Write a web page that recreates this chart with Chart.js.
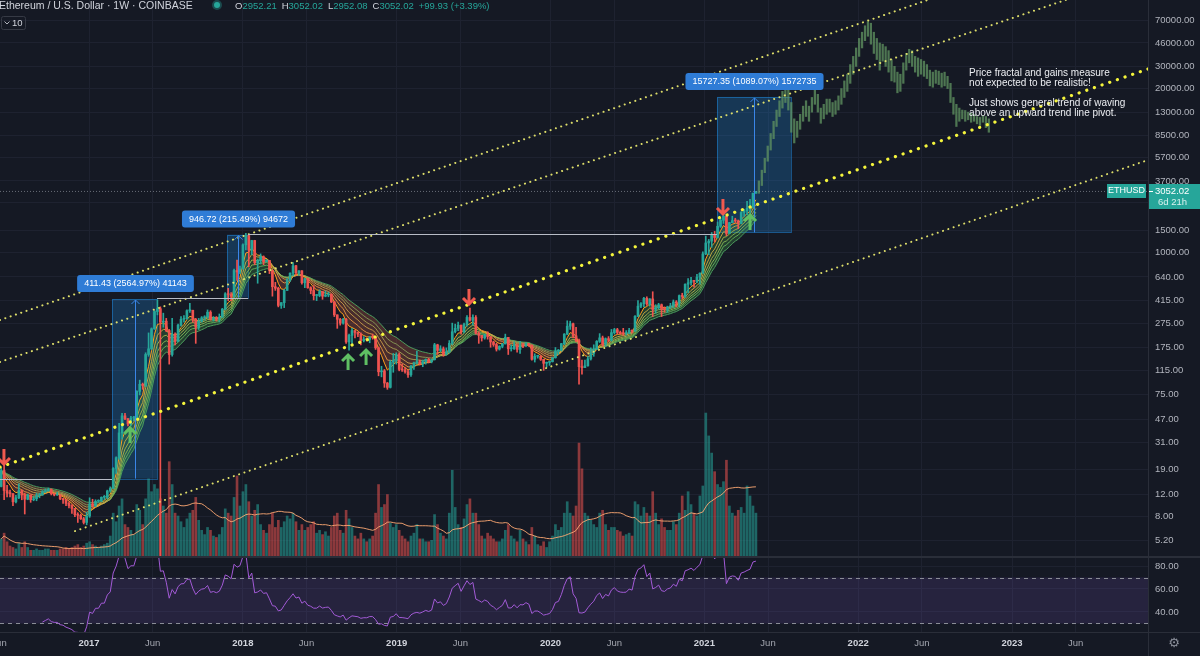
<!DOCTYPE html>
<html>
<head>
<meta charset="utf-8">
<title>ETHUSD 1W - fractal</title>
<script src="https://cdn.jsdelivr.net/npm/chart.js@4.4.0/dist/chart.umd.min.js"></script>
<style>
  html, body { margin: 0; padding: 0; background: #151924; overflow: hidden; }
  #wrap { width: 1200px; height: 656px; }
</style>
</head>
<body>
<div id="wrap"><canvas id="chart" width="1200" height="656"></canvas></div>
<script>
// ---- weekly candles, Coinbase ETHUSD, week of 6 Jun 2016 .. week of 3 May 2021 ----
const FIRST_WEEK = 2016.429;          // decimal year of the first weekly bar
const WEEK = 7 / 365.25;
const FIRST_OPEN = 13.9;

const closes = [
  // 2016
  18.6, 12.9, 12.3, 12.2, 10.5, 11.3, 12.9, 11.9, 11.0, 11.9,
  10.9, 11.1, 11.8, 11.9, 12.6, 12.9, 13.2, 12.2, 11.9, 11.9,
  11.1, 10.9, 10.2, 9.8, 9.3, 8.3, 8.2, 7.7, 7.2, 8.1,
  // 2017
  10.1, 9.8, 10.6, 10.6, 11.4, 11.4, 12.8, 13.4, 19.3, 23.5,
  37, 50.5, 48, 43.5, 48.5, 48.5, 79, 90, 88, 155,
  172, 248, 340, 358, 280, 285, 240, 155, 225, 197,
  265, 295, 298, 345, 348, 295, 255, 285, 303, 308,
  336, 296, 303, 296, 307, 355, 470, 463, 450, 720,
  700, 740,
  // 2018
  1150, 1360, 1045, 1245, 830, 860, 925, 845, 865, 720,
  535, 520, 380, 400, 500, 605, 685, 785, 690, 715,
  575, 620, 525, 500, 455, 455, 490, 450, 460, 465,
  405, 320, 295, 275, 295, 195, 220, 240, 232, 225,
  200, 205, 204, 213, 212, 175, 113, 115, 92, 85,
  135, 139,
  // 2019
  155, 118, 117, 113, 107, 125, 133, 136, 131, 136,
  142, 136, 141, 185, 167, 172, 156, 163, 190, 235,
  250, 265, 235, 268, 305, 290, 305, 228, 220, 210,
  222, 215, 195, 186, 171, 180, 188, 212, 172, 172,
  185, 170, 182, 181, 189, 183, 142, 150, 150, 142,
  132, 134,
  // 2020
  136, 146, 165, 168, 189, 225, 260, 272, 218, 200,
  124, 122, 126, 143, 158, 171, 197, 210, 187, 207,
  201, 231, 244, 232, 228, 227, 228, 241, 238, 311,
  375, 392, 433, 390, 428, 353, 365, 385, 356, 352,
  370, 377, 405, 396, 455, 448, 560, 575, 600, 590,
  638, 685, 975,
  // 2021
  1190, 1230, 1390, 1315, 1615, 1800, 1935, 1415, 1725, 1790,
  1780, 1700, 2080, 2140, 2240, 2320, 2952.21, 3052.02
];

const highs = [
  19.6, 21.5, 14.2, 13.0, 12.2, 11.8, 14.6, 13.0, 12.3, 12.1,
  11.6, 11.6, 12.3, 12.3, 12.9, 13.3, 13.5, 13.3, 12.2, 12.5,
  11.9, 11.2, 11.0, 10.5, 10.0, 9.0, 8.6, 8.4, 7.9, 8.7,
  11.3, 11.0, 10.9, 10.9, 11.5, 11.8, 13.0, 13.8, 19.6, 23.9,
  44, 53, 53, 48, 50, 50, 80, 97, 92, 160,
  230, 252, 345, 420, 370, 330, 300, 245, 300, 230,
  270, 310, 315, 350, 395, 340, 300, 300, 310, 315,
  350, 345, 310, 310, 325, 360, 480, 520, 480, 740,
  870, 780,
  1170, 1420, 1380, 1250, 1250, 885, 975, 940, 880, 865,
  730, 580, 530, 400, 510, 620, 690, 830, 790, 720,
  720, 625, 625, 535, 545, 465, 505, 490, 495, 485,
  470, 410, 320, 300, 300, 300, 225, 250, 240, 235,
  230, 215, 210, 215, 225, 215, 178, 125, 118, 93,
  140, 158,
  160, 160, 130, 122, 117, 127, 135, 165, 140, 140,
  143, 145, 143, 190, 187, 182, 178, 175, 200, 275,
  270, 280, 265, 275, 315, 362, 320, 315, 235, 220,
  225, 235, 215, 198, 190, 182, 190, 225, 212, 185,
  195, 185, 197, 190, 193, 190, 185, 157, 152, 152,
  142, 135,
  137, 147, 176, 170, 190, 227, 287, 285, 275, 255,
  205, 140, 140, 150, 175, 185, 200, 227, 217, 210,
  215, 245, 250, 250, 238, 250, 240, 250, 242, 315,
  415, 400, 440, 445, 430, 488, 385, 395, 390, 370,
  375, 395, 420, 415, 460, 475, 565, 620, 635, 600,
  670, 690, 1010,
  1350, 1270, 1440, 1470, 1745, 1870, 2040, 1950, 1735, 1940,
  1870, 1810, 2110, 2200, 2550, 2640, 2960, 3052.02
];

const lows = [
  13.8, 10.9, 11.5, 11.5, 9.8, 10.3, 11.1, 10.9, 8.4, 10.9,
  10.4, 10.7, 10.7, 11.3, 11.8, 12.4, 12.7, 11.9, 11.7, 11.8,
  10.9, 10.2, 9.8, 9.4, 8.5, 8.0, 7.2, 7.6, 7.0, 6.9,
  7.9, 9.5, 9.6, 10.4, 10.5, 10.9, 11.1, 12.5, 13.4, 17.6,
  22.8, 33, 47, 42, 42, 46, 48, 74, 82, 86,
  150, 170, 245, 320, 0.5, 255, 235, 130, 150, 185,
  195, 260, 280, 295, 335, 280, 190, 245, 280, 290,
  300, 290, 285, 285, 280, 305, 350, 415, 415, 440,
  600, 680,
  740, 1050, 770, 960, 800, 570, 810, 800, 840, 680,
  450, 500, 370, 360, 365, 500, 590, 650, 660, 665,
  560, 525, 520, 470, 420, 415, 445, 425, 445, 445,
  400, 310, 250, 265, 270, 190, 168, 190, 210, 215,
  185, 195, 198, 192, 205, 170, 105, 103, 85, 82,
  84, 112,
  130, 115, 114, 110, 102, 104, 118, 130, 128, 124,
  130, 133, 133, 140, 155, 163, 150, 153, 160, 185,
  230, 240, 225, 230, 260, 285, 265, 225, 190, 198,
  205, 205, 177, 180, 165, 168, 175, 188, 155, 165,
  170, 162, 158, 176, 180, 180, 140, 135, 145, 139,
  116, 123,
  127, 135, 145, 155, 165, 185, 222, 245, 210, 195,
  90, 108, 122, 125, 140, 150, 170, 193, 180, 180,
  195, 198, 225, 225, 224, 220, 221, 228, 230, 236,
  310, 365, 370, 380, 375, 310, 330, 355, 310, 335,
  335, 360, 365, 370, 370, 430, 440, 480, 550, 530,
  575, 560, 690,
  960, 960, 1100, 1220, 1300, 1580, 1700, 1360, 1410, 1720,
  1730, 1545, 1695, 1930, 2000, 2050, 2260, 2952.08
];

// weekly volume, relative units
const volumes = [
  12, 16, 10, 7, 6, 5, 9, 6, 10, 6, 4, 4, 5, 4, 4, 5, 5, 4, 4, 4,
  5, 5, 6, 5, 6, 7, 8, 6, 7, 9,
  10, 8, 7, 6, 7, 8, 9, 14, 30, 24, 35, 40, 22, 20, 18, 15, 36, 32, 22, 40,
  54, 45, 50, 47, 40, 35, 30, 66, 50, 30, 28, 24, 20, 26, 30, 32, 41, 25, 18, 15,
  20, 18, 14, 13, 15, 20, 33, 30, 28, 41, 56, 35,
  45, 50, 38, 28, 32, 36, 22, 18, 16, 22, 30, 20, 25, 20, 24, 28, 26, 30, 24, 18,
  22, 18, 20, 22, 24, 16, 18, 15, 17, 14, 20, 28, 30, 18, 16, 32, 26, 20, 14, 12,
  16, 12, 10, 12, 14, 30, 50, 34, 36, 43, 23, 20,
  22, 18, 14, 12, 10, 14, 16, 22, 12, 12, 10, 10, 11, 29, 22, 16, 14, 12, 30, 60,
  34, 22, 20, 26, 36, 40, 30, 30, 22, 14, 12, 16, 14, 12, 10, 10, 12, 18, 22, 14,
  12, 10, 18, 12, 10, 8, 20, 14, 8, 7, 10, 6,
  10, 14, 22, 18, 20, 30, 38, 30, 28, 35, 79, 61, 30, 28, 25, 22, 20, 30, 32, 22,
  18, 20, 20, 18, 17, 14, 15, 16, 14, 38, 36, 28, 34, 30, 28, 45, 30, 22, 26, 20,
  18, 18, 24, 22, 30, 42, 32, 45, 36, 30, 28, 42, 49,
  100, 84, 72, 59, 50, 48, 52, 67, 35, 30, 28, 32, 34, 30, 49, 42, 35, 30
];

// projected fractal bars (weeks after the last candle): low / high
const projLow = [
  2950, 3400, 4300, 5300, 6500, 8000, 10000, 12000, 14000, 15500,
  13500, 9000, 7400, 8200, 9500, 11000, 12000, 11000, 13000, 15000,
  13000, 10600, 11500, 12500, 13000, 12000, 12500, 13500, 15000, 17000,
  19000, 22000, 26000, 30000, 36000, 42000, 48000, 52000, 45000, 38000,
  34000, 28000, 33000, 30000, 27000, 23000, 22500, 18500, 19000, 22000,
  28000, 32000, 30000, 27000, 25000, 26000, 25000, 24000, 21000, 20500,
  22000, 21500, 20500, 21000, 20000, 15500, 12500, 10000, 11000, 11500,
  11000, 11300, 10800, 11000, 10500, 10200, 10800, 9800, 9000
];
const projHigh = [
  3700, 4500, 5600, 7000, 8800, 11000, 13500, 16000, 19000, 21000,
  20000, 15500, 11500, 11000, 12500, 14500, 16000, 14500, 17000, 20000,
  18000, 14000, 15000, 16500, 16500, 15500, 16000, 17500, 20000, 23000,
  26000, 31000, 36000, 42000, 50000, 56000, 63000, 68000, 66000, 56000,
  50000, 46000, 45000, 43000, 40000, 34000, 30000, 27000, 26000, 32000,
  38000, 41000, 40000, 36000, 35000, 34000, 33000, 31000, 28000, 27000,
  28000, 27500, 26500, 27000, 25000, 22000, 17000, 15000, 14000, 13500,
  13400, 13000, 12800, 12500, 12000, 11800, 12200, 12000, 11500
];

// axes
const X_MIN = 2016.4214;
const X_MAX = 2023.884;
const priceTicks = [70000, 46000, 30000, 20000, 13000, 8500, 5700, 3700, 2500, 1500, 1000, 640,
  415, 275, 175, 115, 75, 47, 31, 19, 12, 8, 5.2];
const rsiTicks = [80, 60, 40];
const rsiBand = [30, 70];
const timeTickValues = [2016.415, 2017, 2017.414, 2018, 2018.414, 2019, 2019.414, 2020, 2020.415,
  2021, 2021.414, 2022, 2022.414, 2023, 2023.414];
const timeTickLabels = ['Jun', '2017', 'Jun', '2018', 'Jun', '2019', 'Jun', '2020', 'Jun',
  '2021', 'Jun', '2022', 'Jun', '2023', 'Jun'];

// indicator settings
const emaPeriods = [5, 8, 11, 14, 17, 21];
const emaColors = ['#ff9f1c', '#e0a040', '#b8a848', '#8fae52', '#66a85a', '#43a060'];

// drawings: channel lines (start/end year and price)
const trendStartX = [2016.4214, 2016.4214, 2016.4214, 2016.909];
const trendStartY = [291, 135.2, 19.8, 6.15];
const trendEndX = [2023.884, 2023.884, 2023.884, 2023.884];
const trendEndY = [404600, 168300, 28580, 5420];

// price range measurements
const measureStart = [2017.1495, 2017.897, 2021.082];
const measureEnd = [2017.442, 2018.034, 2021.564];
const measureFrom = [16.04, 439.3, 1444.1];
const measureTo = [427.47, 1386.0, 17171.5];
const measureText = ['411.43 (2564.97%) 41143', '946.72 (215.49%) 94672', '15727.35 (1089.07%) 1572735'];

// horizontal levels
const levelStart = [2016.4214, 2017.442, 2018.034];
const levelEnd = [2017.1495, 2018.034, 2021.082];
const levelPrice = [16.04, 433, 1400];

// signal arrows
const upArrowX = [2017.267, 2018.684, 2018.801, 2021.297];
const upArrowY = [35.6, 135, 148, 1745];
const downArrowX = [2016.447, 2019.470, 2021.121];
const downArrowY = [23.8, 443, 2296];

const noteX = 2022.721;
const notePrice = 26570;
const noteLines = ['Price fractal and gains measure', 'not expected to be realistic!', '',
  'Just shows general trend of waving', 'above an upward trend line pivot.'];

const headerTitle = 'Ethereum / U.S. Dollar · 1W · COINBASE';
const headerLabels = ['O', 'H', 'L', 'C', ''];
const headerValues = ['2952.21', '3052.02', '2952.08', '3052.02', '+99.93 (+3.39%)'];

// ---- derived series ----
const TEAL = '#26a69a';
const RED = '#ef5350';
const GRID = '#1e2230';
const FONT = "'Liberation Sans', 'Noto Sans', sans-serif";

const weekX = closes.map((_, i) => FIRST_WEEK + i * WEEK);
const opens = closes.map((c, i) => i === 0 ? FIRST_OPEN : closes[i - 1]);
const isUp = closes.map((c, i) => c >= opens[i]);

function ema(values, period) {
  const k = 2 / (period + 1);
  let prev = values[0];
  return values.map(v => (prev = prev + k * (v - prev)));
}

function rsi(values, period) {
  const out = [null];
  let gain = 0, loss = 0;
  for (let i = 1; i < values.length; i++) {
    const d = values[i] - values[i - 1];
    const g = Math.max(d, 0), l = Math.max(-d, 0);
    if (i <= period) {
      gain += g / period;
      loss += l / period;
    } else {
      gain = (gain * (period - 1) + g) / period;
      loss = (loss * (period - 1) + l) / period;
    }
    if (i < period) out.push(null);
    else out.push(loss === 0 ? 100 : 100 - 100 / (1 + gain / loss));
  }
  return out;
}

function sma(values, period) {
  return values.map((_, i) => {
    const s = values.slice(Math.max(0, i - period + 1), i + 1);
    return s.reduce((a, b) => a + b, 0) / s.length;
  });
}

const datasets = [];

// EMA ribbon (first one fills to the last one)
emaPeriods.forEach((p, j) => {
  const line = ema(closes, p);
  datasets.push({
    type: 'line', label: 'EMA ' + p, yAxisID: 'y',
    data: line.map((v, i) => ({ x: weekX[i], y: v })),
    borderColor: emaColors[j], borderWidth: 1, pointRadius: 0, order: 10,
    fill: j === 0 ? { target: emaPeriods.length - 1, above: 'rgba(76,175,80,0.25)', below: 'rgba(205,92,70,0.28)' } : false
  });
});

// candle wicks and bodies
datasets.push({
  type: 'bar', label: 'wicks', yAxisID: 'y', grouped: false, order: 6,
  data: weekX.map((x, i) => ({ x, y: [Math.min(lows[i], opens[i], closes[i]), Math.max(highs[i], opens[i], closes[i])] })),
  backgroundColor: isUp.map(u => u ? TEAL : RED), barThickness: 1, borderWidth: 0
});
datasets.push({
  type: 'bar', label: 'bodies', yAxisID: 'y', grouped: false, order: 5,
  data: weekX.map((x, i) => ({ x, y: [Math.min(opens[i], closes[i]), Math.max(opens[i], closes[i])] })),
  backgroundColor: isUp.map(u => u ? TEAL : RED), barThickness: 2, minBarLength: 1, borderWidth: 0
});

// projected fractal
datasets.push({
  type: 'bar', label: 'fractal', yAxisID: 'y', grouped: false, order: 5,
  data: projLow.map((lo, k) => ({ x: FIRST_WEEK + (closes.length + k) * WEEK, y: [lo, projHigh[k]] })),
  backgroundColor: 'rgba(98,150,98,0.75)', barThickness: 1.6, borderWidth: 0
});

// volume + its moving average
datasets.push({
  type: 'bar', label: 'volume', yAxisID: 'vol', grouped: false, order: 20,
  data: volumes.map((v, i) => ({ x: weekX[i], y: v })),
  backgroundColor: isUp.map(u => u ? 'rgba(38,166,154,0.55)' : 'rgba(239,83,80,0.55)'),
  barThickness: 2, borderWidth: 0
});
datasets.push({
  type: 'line', label: 'volume MA', yAxisID: 'vol', order: 19,
  data: sma(volumes, 20).map((v, i) => ({ x: weekX[i], y: v })),
  borderColor: 'rgba(255,170,115,0.9)', borderWidth: 1, pointRadius: 0
});

// RSI
datasets.push({
  type: 'line', label: 'RSI', yAxisID: 'rsi', order: 3,
  data: rsi(closes, 14).map((v, i) => ({ x: weekX[i], y: v })),
  borderColor: '#a25ad6', borderWidth: 1, pointRadius: 0
});

// last price line
const lastClose = closes[closes.length - 1];
datasets.push({
  type: 'line', label: 'last', yAxisID: 'y', order: 2,
  data: [{ x: X_MIN, y: lastClose }, { x: X_MAX, y: lastClose }],
  borderColor: 'rgba(140,145,155,0.7)', borderWidth: 1, borderDash: [1, 2], pointRadius: 0
});

// channel lines
trendStartX.forEach((x0, j) => {
  const pivot = j === 2;
  datasets.push({
    type: 'line', label: 'trend ' + j, yAxisID: 'y', order: 0,
    data: [{ x: x0, y: trendStartY[j] }, { x: trendEndX[j], y: trendEndY[j] }],
    borderColor: pivot ? '#f5f53c' : 'rgba(232,232,110,0.95)',
    borderWidth: pivot ? 3.2 : 2, borderCapStyle: 'round',
    borderDash: pivot ? [0.1, 8] : [0.1, 5.5], pointRadius: 0
  });
});

// ---- drawing helpers ----
function upArrow(ctx, x, y, color) {
  ctx.save();
  ctx.strokeStyle = color; ctx.lineWidth = 3; ctx.lineCap = 'butt'; ctx.lineJoin = 'miter';
  ctx.beginPath();
  ctx.moveTo(x - 6, y - 1); ctx.lineTo(x, y - 7); ctx.lineTo(x + 6, y - 1);
  ctx.moveTo(x, y - 6); ctx.lineTo(x, y + 8);
  ctx.stroke();
  ctx.restore();
}
function downArrow(ctx, x, y, color) {
  ctx.save();
  ctx.strokeStyle = color; ctx.lineWidth = 3; ctx.lineCap = 'butt'; ctx.lineJoin = 'miter';
  ctx.beginPath();
  ctx.moveTo(x - 6, y + 1); ctx.lineTo(x, y + 7); ctx.lineTo(x + 6, y + 1);
  ctx.moveTo(x, y + 6); ctx.lineTo(x, y - 8);
  ctx.stroke();
  ctx.restore();
}

const background = {
  id: 'background',
  beforeDraw(chart) {
    const ctx = chart.ctx;
    ctx.save();
    ctx.fillStyle = '#151924';
    ctx.fillRect(0, 0, chart.width, chart.height);
    ctx.restore();
  }
};

const overlay = {
  id: 'overlay',
  beforeDatasetsDraw(chart) {
    const { ctx, chartArea: area, scales } = chart;
    const { x, y, rsi: r } = scales;
    ctx.save();
    // RSI band
    const yHi = r.getPixelForValue(rsiBand[1]);
    const yLo = r.getPixelForValue(rsiBand[0]);
    ctx.fillStyle = 'rgba(126,87,194,0.17)';
    ctx.fillRect(area.left, yHi, area.right - area.left, yLo - yHi);
    ctx.strokeStyle = '#8a8d96'; ctx.lineWidth = 1; ctx.setLineDash([4, 4]);
    [yHi, yLo].forEach(py => {
      ctx.beginPath(); ctx.moveTo(area.left, Math.round(py) + 0.5); ctx.lineTo(area.right, Math.round(py) + 0.5); ctx.stroke();
    });
    ctx.setLineDash([]);
    // measurement boxes
    measureStart.forEach((x0, j) => {
      const l = x.getPixelForValue(x0), rr = x.getPixelForValue(measureEnd[j]);
      const t = y.getPixelForValue(measureTo[j]), b = y.getPixelForValue(measureFrom[j]);
      ctx.fillStyle = 'rgba(33,150,243,0.24)';
      ctx.fillRect(l, t, rr - l, b - t);
      ctx.strokeStyle = 'rgba(33,150,243,0.45)';
      ctx.strokeRect(Math.round(l) + 0.5, Math.round(t) + 0.5, Math.round(rr - l), Math.round(b - t));
    });
    ctx.restore();
  },
  afterDatasetsDraw(chart) {
    const { ctx, scales } = chart;
    const { x, y } = scales;
    ctx.save();
    // horizontal levels
    ctx.strokeStyle = '#b8bcc6'; ctx.lineWidth = 1;
    levelStart.forEach((x0, j) => {
      const py = Math.round(y.getPixelForValue(levelPrice[j])) + 0.5;
      ctx.beginPath(); ctx.moveTo(x.getPixelForValue(x0), py); ctx.lineTo(x.getPixelForValue(levelEnd[j]), py); ctx.stroke();
    });
    // measurement arrows + labels
    measureStart.forEach((x0, j) => {
      const l = x.getPixelForValue(x0), rr = x.getPixelForValue(measureEnd[j]);
      const cx = Math.round((l + rr) / 2) + 0.5;
      const t = y.getPixelForValue(measureTo[j]), b = y.getPixelForValue(measureFrom[j]);
      ctx.strokeStyle = '#3a86e8'; ctx.lineWidth = 1;
      ctx.beginPath(); ctx.moveTo(cx, b); ctx.lineTo(cx, t + 1);
      ctx.moveTo(cx - 4, t + 5); ctx.lineTo(cx, t + 1); ctx.lineTo(cx + 4, t + 5);
      ctx.stroke();
      ctx.font = '9px ' + FONT;
      const w = ctx.measureText(measureText[j]).width + 14;
      ctx.fillStyle = '#2f7cd6';
      ctx.beginPath(); ctx.roundRect(cx - w / 2, t - 24, w, 17, 3); ctx.fill();
      ctx.fillStyle = '#ffffff'; ctx.textAlign = 'center'; ctx.textBaseline = 'middle';
      ctx.fillText(measureText[j], cx, t - 15.5);
    });
    // signals
    upArrowX.forEach((v, j) => upArrow(ctx, x.getPixelForValue(v), y.getPixelForValue(upArrowY[j]), '#5fbf63'));
    downArrowX.forEach((v, j) => downArrow(ctx, x.getPixelForValue(v), y.getPixelForValue(downArrowY[j]), '#f05a4f'));
    // note
    ctx.font = '10px ' + FONT; ctx.fillStyle = '#eceef2';
    ctx.textAlign = 'left'; ctx.textBaseline = 'middle';
    const nx = x.getPixelForValue(noteX), ny = y.getPixelForValue(notePrice);
    noteLines.forEach((s, i) => { if (s) ctx.fillText(s, nx, ny + i * 10, 160); });
    ctx.restore();
  },
  afterDraw(chart) {
    const { ctx, chartArea: area, scales } = chart;
    const { y } = scales;
    ctx.save();
    // pane borders
    ctx.strokeStyle = '#2a2e39'; ctx.lineWidth = 2;
    ctx.beginPath(); ctx.moveTo(0, y.bottom + 1); ctx.lineTo(chart.width, y.bottom + 1); ctx.stroke();
    ctx.lineWidth = 1;
    ctx.beginPath(); ctx.moveTo(0, area.bottom + 0.5); ctx.lineTo(chart.width, area.bottom + 0.5);
    ctx.moveTo(area.right + 0.5, 0); ctx.lineTo(area.right + 0.5, chart.height); ctx.stroke();

    // last price tags
    const py = Math.round(y.getPixelForValue(lastClose));
    ctx.fillStyle = TEAL;
    ctx.fillRect(area.right + 1, py - 7, chart.width - area.right, 25);
    ctx.fillRect(area.right - 41, py - 7, 39, 14);
    ctx.fillStyle = '#ffffff';
    ctx.fillRect(area.right + 1, py, 4, 1);
    ctx.font = '9.5px ' + FONT; ctx.textBaseline = 'middle'; ctx.textAlign = 'left';
    ctx.fillText(lastClose.toFixed(2), area.right + 7, py);
    ctx.fillStyle = '#d8f1ee';
    ctx.fillText('6d 21h', area.right + 10, py + 11);
    ctx.fillStyle = '#ffffff'; ctx.textAlign = 'center'; ctx.font = '9px ' + FONT;
    ctx.fillText('ETHUSD', area.right - 21.5, py);

    // header
    ctx.textAlign = 'left'; ctx.textBaseline = 'middle';
    ctx.font = '10.5px ' + FONT; ctx.fillStyle = '#d1d4dc';
    ctx.fillText(headerTitle, -1, 6, 200);
    ctx.fillStyle = 'rgba(38,166,154,0.35)';
    ctx.beginPath(); ctx.arc(217, 5, 5, 0, Math.PI * 2); ctx.fill();
    ctx.fillStyle = TEAL;
    ctx.beginPath(); ctx.arc(217, 5, 3, 0, Math.PI * 2); ctx.fill();
    let hx = 235;
    ctx.font = '9.5px ' + FONT;
    headerLabels.forEach((lab, i) => {
      if (lab) { ctx.fillStyle = '#d1d4dc'; ctx.fillText(lab, hx, 6); hx += ctx.measureText(lab).width; }
      ctx.fillStyle = TEAL; ctx.fillText(headerValues[i], hx, 6);
      hx += ctx.measureText(headerValues[i]).width + 5;
    });
    // indicator collapse button
    ctx.strokeStyle = '#363a45'; ctx.lineWidth = 1;
    ctx.beginPath(); ctx.roundRect(1.5, 16.5, 24, 13, 2); ctx.stroke();
    ctx.strokeStyle = '#b2b5be';
    ctx.beginPath(); ctx.moveTo(4.5, 21.5); ctx.lineTo(7, 24); ctx.lineTo(9.5, 21.5); ctx.stroke();
    ctx.fillStyle = '#d1d4dc'; ctx.font = '9.5px ' + FONT;
    ctx.fillText('10', 12, 23);

    // settings gear
    ctx.fillStyle = '#8a8e99'; ctx.font = '13px "DejaVu Sans"'; ctx.textAlign = 'center';
    ctx.fillText('\u2699', (area.right + chart.width) / 2, area.bottom + 12);
    ctx.restore();
  }
};

Chart.defaults.font.family = FONT;
Chart.defaults.color = '#b2b5be';

function fitRight(s) {
  s.width = 52;
  s.paddingTop = 0;
  s.paddingBottom = 0;
}

new Chart(document.getElementById('chart'), {
  type: 'bar',
  data: { datasets },
  options: {
    responsive: false,
    animation: false,
    events: [],
    layout: { padding: 0 },
    plugins: { legend: { display: false }, tooltip: { enabled: false } },
    scales: {
      x: {
        type: 'linear', min: X_MIN, max: X_MAX, offset: false,
        grid: { color: GRID, drawTicks: false, offset: false },
        border: { color: '#2a2e39' },
        afterBuildTicks: s => { s.ticks = timeTickValues.map(v => ({ value: v })); },
        afterFit: s => { s.height = 24; s.paddingLeft = 0; s.paddingRight = 0; },
        ticks: {
          autoSkip: false, maxRotation: 0, padding: 6,
          callback: (v, i) => timeTickLabels[i],
          font: c => ({ size: 9.5, weight: timeTickLabels[c.index] === 'Jun' ? 'normal' : 'bold' }),
          color: c => timeTickLabels[c.index] === 'Jun' ? '#a3a6af' : '#d1d4dc'
        }
      },
      y: {
        type: 'logarithmic', position: 'right', stack: 'pane', stackWeight: 556,
        min: 3.9, max: 100900,
        grid: { color: GRID, drawTicks: false },
        border: { color: '#2a2e39' },
        afterBuildTicks: s => { s.ticks = priceTicks.map(v => ({ value: v })); },
        afterFit: fitRight,
        ticks: { autoSkip: false, padding: 7, font: { size: 9.5 }, color: '#b2b5be', callback: v => Number(v).toFixed(2) }
      },
      rsi: {
        type: 'linear', position: 'right', stack: 'pane', stackWeight: 76,
        min: 22.6, max: 88.7,
        grid: { color: GRID, drawTicks: false },
        border: { color: '#2a2e39' },
        afterBuildTicks: s => { s.ticks = rsiTicks.map(v => ({ value: v })); },
        afterFit: fitRight,
        ticks: { autoSkip: false, padding: 7, font: { size: 9.5 }, color: '#b2b5be', callback: v => Number(v).toFixed(2) }
      },
      vol: { type: 'linear', display: false, min: -53.1, max: 388.8 }
    }
  },
  plugins: [background, overlay]
});
</script>
</body>
</html>
